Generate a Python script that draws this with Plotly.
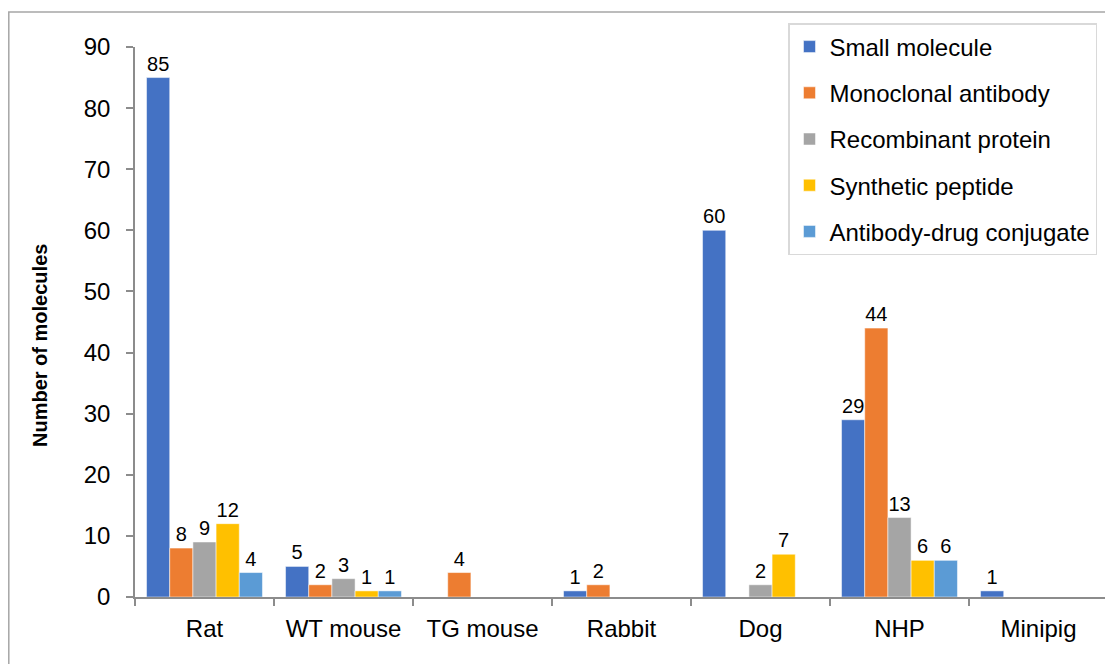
import plotly.graph_objects as go

categories = ["Rat", "WT mouse", "TG mouse", "Rabbit", "Dog", "NHP", "Minipig"]
series_names = ["Small molecule", "Monoclonal antibody", "Recombinant protein",
                "Synthetic peptide", "Antibody-drug conjugate"]
small_molecule = [85, 5, 0, 1, 60, 29, 1]
monoclonal_antibody = [8, 2, 4, 2, 0, 44, 0]
recombinant_protein = [9, 3, 0, 0, 2, 13, 0]
synthetic_peptide = [12, 1, 0, 0, 7, 6, 0]
adc = [4, 1, 0, 0, 0, 6, 0]
series_values = [small_molecule, monoclonal_antibody, recombinant_protein, synthetic_peptide, adc]
colors = ["#4472C4", "#ED7D31", "#A5A5A5", "#FFC000", "#5B9BD5"]

FONT = "Liberation Sans, Arial, sans-serif"

fig = go.Figure()
for i, (name, vals) in enumerate(zip(series_names, series_values)):
    fig.add_trace(go.Bar(
        x=categories, y=vals, name=name,
        marker=dict(color=colors[i], line=dict(color="white", width=0.5)),
        text=[str(v) if v != 0 else "" for v in vals],
        textposition="outside", constraintext="none", cliponaxis=False,
        textfont=dict(family=FONT, size=20, color="#000000"),
        legendgroup=f"g{i}",
    ))

# page body has an 8px margin; figure coordinates are page coordinates minus 8
OFF = 8
W, H = 1113 - OFF, 664 - OFF
L, T = 135 - OFF, 47 - OFF
R = W - (1108 - OFF)
B = H - (597 - OFF)
pw = W - L - R
ph = H - T - B

def px(xpage):
    return (xpage - OFF - L) / pw

def py(ypage):
    return (H - B - (ypage - OFF)) / ph

fig.update_layout(
    width=W, height=H,
    margin=dict(l=L, r=R, t=T, b=B, pad=0),
    paper_bgcolor="white", plot_bgcolor="white",
    barmode="group", bargap=0.166, bargroupgap=0,
    font=dict(family=FONT, color="#000000"),
    showlegend=True,
    legend=dict(
        x=px(788), y=py(23), xanchor="left", yanchor="top",
        bordercolor="#D9D9D9", borderwidth=1.5, bgcolor="white",
        font=dict(family=FONT, size=24, color="#000000"),
        tracegroupgap=12, itemwidth=30,
    ),
    xaxis=dict(
        showline=True, linecolor="#8C8C8C", linewidth=1.5,
        ticks="outside", tickson="boundaries", ticklen=7, tickcolor="#8C8C8C", tickwidth=1.5,
        tickfont=dict(family=FONT, size=24, color="#000000"),
        ticklabelstandoff=9,
        showgrid=False, zeroline=False,
    ),
    yaxis=dict(
        range=[0, 90], dtick=10,
        showline=True, linecolor="#8C8C8C", linewidth=1.5,
        ticks="outside", ticklen=7, tickcolor="#8C8C8C", tickwidth=1.5,
        tickfont=dict(family=FONT, size=24, color="#000000"),
        ticklabelstandoff=11,
        showgrid=False, zeroline=False,
    ),
    annotations=[dict(
        text="<b>Number of molecules</b>", textangle=-90,
        x=px(40), y=py(346), xref="paper", yref="paper",
        xanchor="center", yanchor="middle", showarrow=False,
        font=dict(family=FONT, size=20, color="#000000"),
    )],
    shapes=[dict(
        type="rect", xref="paper", yref="paper",
        x0=px(8.8), x1=px(1130),
        y0=py(690), y1=py(12),
        line=dict(color="#A6A6A6", width=1.5), fillcolor="rgba(0,0,0,0)", layer="below",
    )],
)

fig.write_html("out.html")
